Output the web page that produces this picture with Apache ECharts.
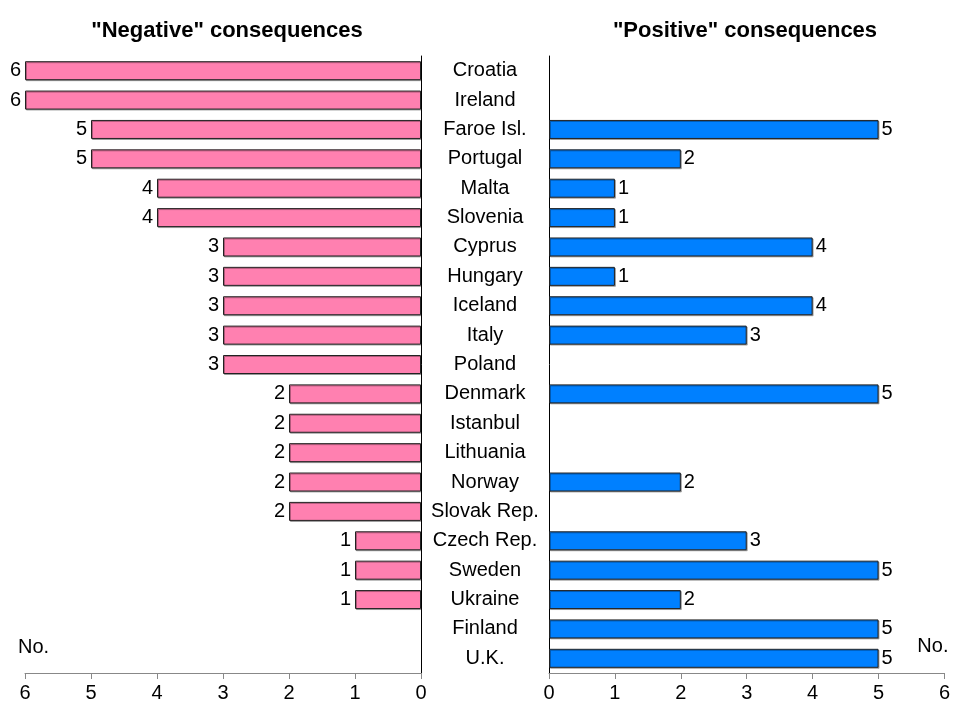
<!DOCTYPE html>
<html><head><meta charset="utf-8">
<script src="https://cdn.jsdelivr.net/npm/echarts@6/dist/echarts.min.js"></script>
<style>html,body{margin:0;padding:0;background:#fff}#c{width:953px;height:704px}</style>
</head><body><div id="c"></div>
<script>
const categories = ["Croatia","Ireland","Faroe Isl.","Portugal","Malta","Slovenia","Cyprus","Hungary","Iceland","Italy","Poland","Denmark","Istanbul","Lithuania","Norway","Slovak Rep.","Czech Rep.","Sweden","Ukraine","Finland","U.K."];
const negativeValues = [6,6,5,5,4,4,3,3,3,3,3,2,2,2,2,2,1,1,1,null,null];
const positiveValues = [null,null,5,2,1,1,4,1,4,3,null,5,null,null,2,null,3,5,2,5,5];
const xTicks = [0,1,2,3,4,5,6];

const font = "'Liberation Sans', Arial, sans-serif";
const fs = 20;
const chart = echarts.init(document.getElementById('c'), null, {renderer:'canvas'});
const barStyle = (color) => ({color: color, borderColor: '#222', borderWidth: 1, shadowColor: 'rgba(0,0,0,0.3)', shadowOffsetX: 1, shadowOffsetY: 1, shadowBlur: 0});
const xAxisCommon = {
  type: 'value', min: xTicks[0], max: xTicks[xTicks.length-1], interval: 1,
  splitLine: {show: false},
  axisLine: {show: true, lineStyle: {color: '#888', width: 1}},
  axisTick: {show: true, length: 6, lineStyle: {color: '#888'}},
  axisLabel: {color: '#000', fontSize: fs, fontFamily: font, margin: 10},
  name: 'No.', nameLocation: 'end',
};
chart.setOption({
  animation: false,
  textStyle: {fontFamily: font},
  title: [
    {text: '"Negative" consequences', left: 222, top: 15, textAlign: 'center', textStyle: {fontSize: 22, fontWeight: 'bold', color: '#000', fontFamily: font}},
    {text: '"Positive" consequences', left: 740, top: 15, textAlign: 'center', textStyle: {fontSize: 22, fontWeight: 'bold', color: '#000', fontFamily: font}}
  ],
  grid: [
    {left: 25, right: 532, top: 56, bottom: 31, containLabel: false},
    {left: 549, right: 6, top: 56, bottom: 31, containLabel: false}
  ],
  xAxis: [
    Object.assign({}, xAxisCommon, {gridIndex: 0, inverse: true, nameGap: 7,
      nameTextStyle: {color: '#000', fontSize: fs, fontFamily: font, align: 'left', verticalAlign: 'bottom', padding: [0,0,16,0]}}),
    Object.assign({}, xAxisCommon, {gridIndex: 1, nameGap: 4,
      nameTextStyle: {color: '#000', fontSize: fs, fontFamily: font, align: 'right', verticalAlign: 'bottom', padding: [0,0,17,0]}})
  ],
  yAxis: [
    {type: 'category', gridIndex: 0, data: categories, inverse: true, position: 'right',
      axisLine: {show: true, lineStyle: {color: '#000', width: 1}}, axisTick: {show: false}, axisLabel: {show: false}},
    {type: 'category', gridIndex: 1, data: categories, inverse: true, position: 'left',
      axisLine: {show: true, lineStyle: {color: '#000', width: 1}}, axisTick: {show: false},
      axisLabel: {show: true, align: 'center', margin: 64, color: '#000', fontSize: fs, fontFamily: font}}
  ],
  series: [
    {type: 'bar', xAxisIndex: 0, yAxisIndex: 0, data: negativeValues, barWidth: 19,
      itemStyle: barStyle('#FF80B0'),
      label: {show: true, position: 'left', distance: 4, color: '#000', fontSize: fs, fontFamily: font}},
    {type: 'bar', xAxisIndex: 1, yAxisIndex: 1, data: positiveValues, barWidth: 19,
      itemStyle: barStyle('#0080FF'),
      label: {show: true, position: 'right', distance: 3, color: '#000', fontSize: fs, fontFamily: font}}
  ]
});
</script></body></html>
